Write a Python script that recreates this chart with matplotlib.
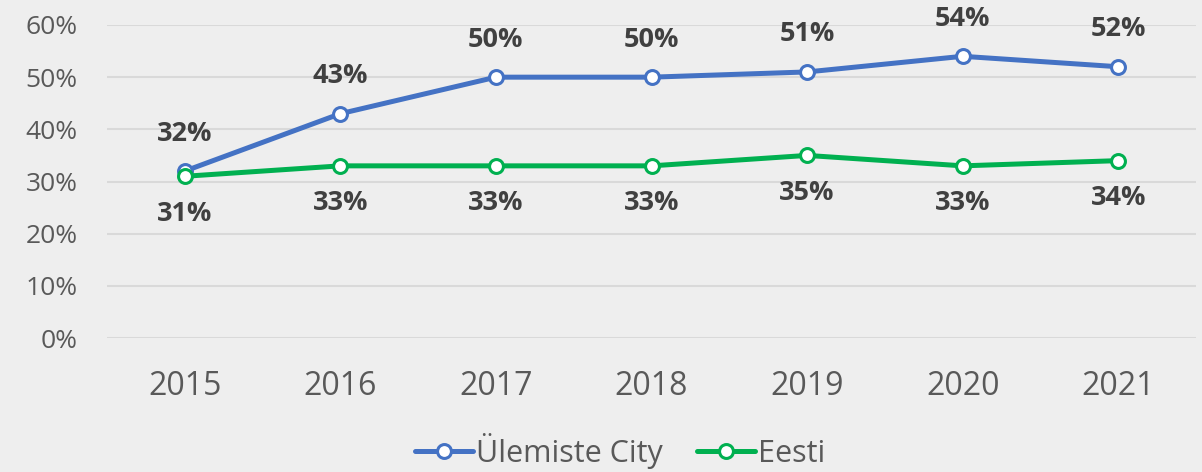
import matplotlib.pyplot as plt
from matplotlib.ticker import FuncFormatter

years = ['2015', '2016', '2017', '2018', '2019', '2020', '2021']
ulemiste = [32, 43, 50, 50, 51, 54, 52]
eesti = [31, 33, 33, 33, 35, 33, 34]

BG = '#EEEEEE'
BLUE = '#4472C4'
GREEN = '#00B050'

plt.rcParams['font.family'] = ['Open Sans', 'DejaVu Sans']

fig = plt.figure(figsize=(12.02, 4.72), dpi=100, facecolor=BG)
ax = fig.add_axes([107 / 1202, 1 - 338 / 472, 1089 / 1202, 313 / 472])
ax.set_facecolor(BG)

x = list(range(len(years)))
for vals, col, name, off in [(ulemiste, BLUE, 'Ülemiste City', 27),
                             (eesti, GREEN, 'Eesti', -27)]:
    ax.plot(x, vals, color=col, lw=3.6, marker='o', ms=10, mfc='white',
            mec=col, mew=2.2, label=name, zorder=3, solid_capstyle='round')
    for xi, v in zip(x, vals):
        ax.annotate(f'{v}%', (xi, v), xytext=(0, off), textcoords='offset points',
                    ha='center', va='center', fontsize=19.5, fontweight='bold',
                    color='#404040')

ax.set_xlim(-0.5, 6.5)
ax.set_ylim(0, 60)
ax.set_yticks(range(0, 61, 10))
ax.yaxis.set_major_formatter(FuncFormatter(lambda v, p: f'{v:.0f}%'))
ax.set_xticks(x)
ax.set_xticklabels(years)
ax.grid(axis='y', color='#D9D9D9', lw=1.5)
ax.set_axisbelow(True)
for s in ax.spines.values():
    s.set_visible(False)
ax.tick_params(axis='both', length=0, colors='#595959')
ax.tick_params(axis='y', pad=21, labelsize=19)
ax.tick_params(axis='x', pad=23, labelsize=23)

fig.legend(loc='center', bbox_to_anchor=(0.516, 0.045), ncol=2, frameon=False,
           fontsize=22, labelcolor='#595959', handlelength=1.9, handletextpad=0.1,
           columnspacing=1.1, borderpad=0.1)

fig.savefig('out.png', dpi=100, facecolor=BG)
